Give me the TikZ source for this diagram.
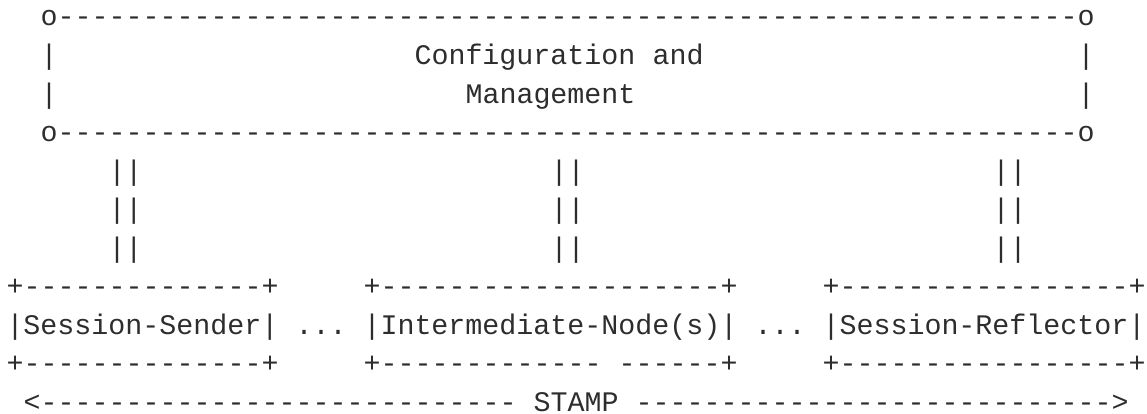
\documentclass[tikz,border=0pt]{standalone}
\usepackage{fontspec}
\newfontfamily\ascfont{Liberation Mono}
\definecolor{ink}{RGB}{45,45,45}

% one character cell is 17pt wide, rows are 38.55pt apart
\newcommand\colx[1]{6.5+17*(#1)}
\newcommand\rowy[1]{387-38.55*(#1)}
% \cell{name}{column}{row}{text}
\newcommand\cell[4]{\node[asc] (#1) at ({\colx{#2}},{\rowy{#3}}) {#4};}
% \dashrun{prefix}{from}{to}{row}
\newcommand\dashrun[4]{%
  \foreach \c in {#2,...,#3} {\node[asc] (#1-\c) at ({\colx{\c}},{\rowy{#4}}) {-};}}

\begin{document}
\begin{tikzpicture}[x=1pt,y=1pt,
  asc/.style={anchor=base west,inner sep=0pt,outer sep=0pt,text=ink,
    font=\ascfont\fontsize{28.33}{34}\selectfont}]
\useasboundingbox (0,0) rectangle (1147,413);

% configuration and management box
\cell{cmTL}{2}{0}{o}\dashrun{cmTop}{3}{62}{0}\cell{cmTR}{63}{0}{o}
\cell{cmL1}{2}{1}{|}\cell{cmR1}{63}{1}{|}
\cell{cfg}{24}{1}{Configuration}\cell{cfgAnd}{38}{1}{and}
\cell{cmL2}{2}{2}{|}\cell{cmR2}{63}{2}{|}
\cell{mgmt}{27}{2}{Management}
\cell{cmBL}{2}{3}{o}\dashrun{cmBot}{3}{62}{3}\cell{cmBR}{63}{3}{o}

% management links
\foreach \r in {4,5,6} {
  \cell{lnkS\r}{6}{\r}{||}
  \cell{lnkI\r}{32}{\r}{||}
  \cell{lnkR\r}{58}{\r}{||}
}

% top edges of the three boxes
\cell{sTL}{0}{7}{+}\dashrun{sTop}{1}{14}{7}\cell{sTR}{15}{7}{+}
\cell{iTL}{21}{7}{+}\dashrun{iTop}{22}{41}{7}\cell{iTR}{42}{7}{+}
\cell{rTL}{48}{7}{+}\dashrun{rTop}{49}{65}{7}\cell{rTR}{66}{7}{+}

% box labels
\cell{sender}{0}{8}{|Session-Sender|}
\cell{dots1}{17}{8}{...}
\cell{inter}{21}{8}{|Intermediate-Node(s)|}
\cell{dots2}{44}{8}{...}
\cell{reflector}{48}{8}{|Session-Reflector|}

% bottom edges of the three boxes
\cell{sBL}{0}{9}{+}\dashrun{sBot}{1}{14}{9}\cell{sBR}{15}{9}{+}
\cell{iBL}{21}{9}{+}\dashrun{iBotA}{22}{34}{9}\dashrun{iBotB}{36}{41}{9}\cell{iBR}{42}{9}{+}
\cell{rBL}{48}{9}{+}\dashrun{rBot}{49}{65}{9}\cell{rBR}{66}{9}{+}

% STAMP span
\cell{stampL}{1}{10}{<}\dashrun{stampA}{2}{29}{10}
\cell{stamp}{31}{10}{STAMP}
\dashrun{stampB}{37}{64}{10}\cell{stampR}{65}{10}{>}
\end{tikzpicture}
\end{document}
